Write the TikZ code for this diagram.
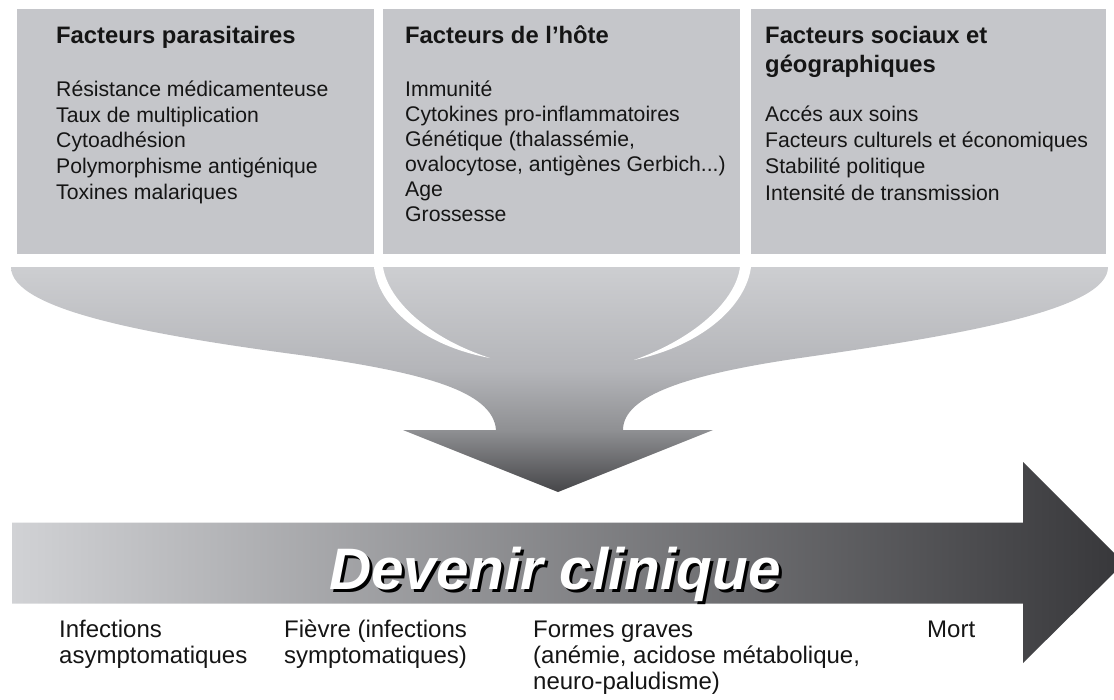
\documentclass[tikz,border=0pt]{standalone}
\usepackage{fontspec}
\setmainfont{Liberation Sans}
\definecolor{boxgray}{HTML}{C5C6CA}
\definecolor{fA}{HTML}{464649}
\definecolor{fB}{HTML}{8F9093}
\definecolor{fC}{HTML}{B4B5B9}
\definecolor{fD}{HTML}{CDCED1}
\definecolor{barL}{HTML}{D1D2D5}
\definecolor{barR}{HTML}{37373A}
\definecolor{txt}{HTML}{151515}
\pgfdeclareverticalshading{funnelshade}{100bp}{color(0bp)=(fA); color(25bp)=(fA); color(38.8bp)=(fB); color(52bp)=(fC); color(75bp)=(fD); color(100bp)=(fD)}
\newcommand{\shadowtext}[1]{\makebox[0pt][l]{\kern3pt\raisebox{-3pt}{\textcolor{black}{#1}}}#1}
\tikzset{
  body/.style={anchor=base west, inner sep=0pt, text=txt, font=\fontsize{21.2}{25}\selectfont},
  head/.style={anchor=base west, inner sep=0pt, text=txt, font=\fontsize{23.8}{28}\selectfont\bfseries},
  lab/.style={anchor=base west, inner sep=0pt, text=txt, font=\fontsize{24}{27}\selectfont},
  big/.style={anchor=base, inner sep=0pt, font=\fontsize{58.5}{62}\selectfont\bfseries\itshape},
}
\begin{document}
\begin{tikzpicture}[x=1pt,y=-1pt]
\useasboundingbox (0,0) rectangle (1114,699);
% boxes
\fill[boxgray] (17,9) rectangle (374,254);
\fill[boxgray] (383,9) rectangle (740,254);
\fill[boxgray] (751,9) rectangle (1106,254);
% funnel
\shade[shading=funnelshade]
  (11,267) -- (1108,267)
  .. controls (1108,310) and (960,335) .. (800,358)
  .. controls (690,374) and (623,395) .. (623,430)
  -- (713,430) -- (558,492) -- (403,430) -- (496,430)
  .. controls (493,390) and (420,372) .. (300,355)
  .. controls (150,335) and (11,310) .. (11,267) -- cycle;
% white crescents
\fill[white] (374,262) -- (374,267) .. controls (378,305) and (420,345) .. (490,358)
  .. controls (428,338) and (388,300) .. (383,267) -- (383,262) -- cycle;
\fill[white] (751,262) -- (751,267) .. controls (746,305) and (704,345) .. (634,360)
  .. controls (696,338) and (736,300) .. (740,267) -- (740,262) -- cycle;
% horizontal arrow
\shade[left color=barL, right color=barR]
  (12,522.5) -- (1023,522.5) -- (1023,462) -- (1124,563) -- (1023,663)
  -- (1023,603.5) -- (12,603.5) -- cycle;
% title
\node[big, text=white] (dc) at (555,589) {\shadowtext{Devenir clinique}};
% box 1
\node[head] (h1) at (56,43) {Facteurs parasitaires};
\node[body] (a1) at (56,96.7) {Résistance médicamenteuse};
\node[body] (a2) at (56,122.3) {Taux de multiplication};
\node[body] (a3) at (56,147.9) {Cytoadhésion};
\node[body] (a4) at (56,173.5) {Polymorphisme antigénique};
\node[body] (a5) at (56,199.1) {Toxines malariques};
% box 2
\node[head] (h2) at (405,43) {Facteurs de l’hôte};
\node[body] (b1) at (405,96.7) {Immunité};
\node[body] (b2) at (405,121.7) {Cytokines pro-inflammatoires};
\node[body] (b3) at (405,146.7) {Génétique (thalassémie,};
\node[body] (b4) at (405,171.7) {ovalocytose, antigènes Gerbich...)};
\node[body] (b5) at (405,196.7) {Age};
\node[body] (b6) at (405,221.7) {Grossesse};
% box 3
\node[head] (h3) at (765,43) {Facteurs sociaux et};
\node[head] (h3b) at (765,72) {géographiques};
\node[body] (c1) at (765,121.7) {Accés aux soins};
\node[body] (c2) at (765,147.8) {Facteurs culturels et économiques};
\node[body] (c3) at (765,173.9) {Stabilité politique};
\node[body] (c4) at (765,200) {Intensité de transmission};
% bottom labels
\node[lab] (l1) at (59,637) {Infections};
\node[lab] (l1b) at (59,663) {asymptomatiques};
\node[lab] (l2) at (284,637) {Fièvre (infections};
\node[lab] (l2b) at (284,663) {symptomatiques)};
\node[lab] (l3) at (533,637) {Formes graves};
\node[lab] (l3b) at (533,663) {(anémie, acidose métabolique,};
\node[lab] (l3c) at (533,689) {neuro-paludisme)};
\node[lab] (l4) at (927,637) {Mort};
\end{tikzpicture}
\end{document}
